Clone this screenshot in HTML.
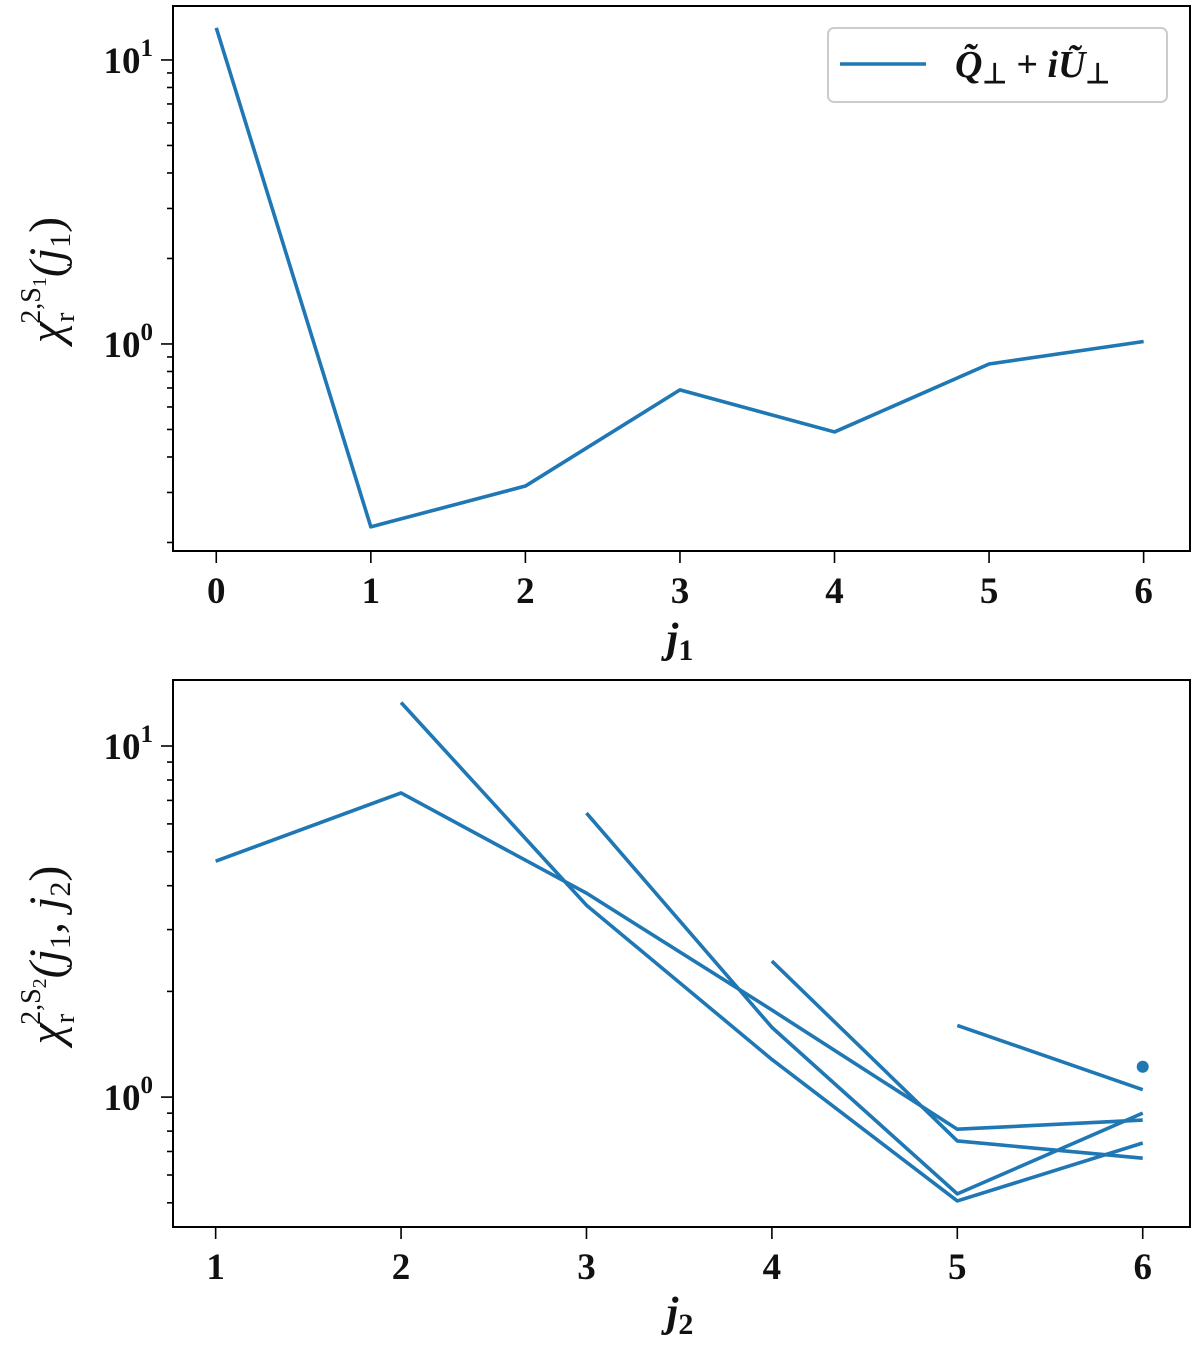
<!DOCTYPE html>
<html><head><meta charset="utf-8"><style>
html,body{margin:0;padding:0;background:#fff}
svg{display:block}
text{font-family:"Liberation Serif",serif;fill:#111}
</style></head><body>
<svg id="c" width="1200" height="1349" viewBox="0 0 1200 1349" xmlns="http://www.w3.org/2000/svg"></svg>
<script>
// Top panel data
const top_j1 = [0,1,2,3,4,5,6];
const top_vals = [12.97,0.227,0.316,0.689,0.49,0.85,1.02];
const top_xticks = ["0","1","2","3","4","5","6"];
// Bottom panel data: one series per j1, starting at j2 = j1+1
const bot_xticks = ["1","2","3","4","5","6"];
const s0_j2=[1,2,3,4,5,6], s0_v=[4.70,7.35,3.81,1.77,0.81,0.86];
const s1_j2=[2,3,4,5,6],   s1_v=[13.3,3.52,1.28,0.506,0.74];
const s2_j2=[3,4,5,6],     s2_v=[6.44,1.58,0.53,0.90];
const s3_j2=[4,5,6],       s3_v=[2.44,0.75,0.67];
const s4_j2=[5,6],         s4_v=[1.60,1.05];
const s5_j2=[6],           s5_v=[1.22];

const NS="http://www.w3.org/2000/svg";
const svg=document.getElementById('c');
function mk(tag,attrs,parent){const e=document.createElementNS(NS,tag);for(const k in attrs)e.setAttribute(k,attrs[k]);(parent||svg).appendChild(e);return e;}
const C="#1f77b4";

function panel(cfg){
  const {L,R,T,B,xmin,xmax,ymin,ymax,name}=cfg;
  const xs=v=>L+(v-xmin)/(xmax-xmin)*(R-L);
  const ys=v=>B-(Math.log10(v)-ymin)/(ymax-ymin)*(B-T);
  const g=mk('g',{});
  
  
  for(let d=Math.floor(ymin);d<=Math.ceil(ymax);d++){
    for(let m=1;m<10;m++){
      const lv=d+Math.log10(m);
      if(lv<ymin||lv>ymax)continue;
      const y=B-(lv-ymin)/(ymax-ymin)*(B-T);
      const len=m===1?12:6;
      const t=mk('line',{x1:L-len,x2:L,y1:y,y2:y,stroke:'#000','stroke-width':1.6},g);
      
      
      if(m===1){
        const tx=mk('text',{x:L-20,y:y+13,'text-anchor':'end','font-size':37,'font-weight':'bold'},g);
        
        
        tx.innerHTML='10<tspan dy="-17" font-size="25">'+d+'</tspan>';
      }
    }
  }
  return {g,xs,ys};
}
function frame(g,L,R,T,B){
  const r=mk('rect',{x:L,y:T,width:R-L,height:B-T,fill:'none',stroke:'#000','stroke-width':2},g);
  
  
}
function xticks(g,labels,vals,xs,B){
  labels.forEach((lb,i)=>{
    const x=xs(vals[i]);
    const t=mk('line',{x1:x,x2:x,y1:B,y2:B+12,stroke:'#000','stroke-width':1.6},g);
    
    
    const tx=mk('text',{x:x,y:B+52,'text-anchor':'middle','font-size':37,'font-weight':'bold'},g);
    
    
    tx.textContent=lb;
  });
}
function line(g,xv,yv,xs,ys,nm){
  if(xv.length===1){
    const c=mk('circle',{cx:xs(xv[0]),cy:ys(yv[0]),r:6,fill:C},g);
    
    
    return;
  }
  const p=mk('polyline',{points:xv.map((x,i)=>xs(x)+','+ys(yv[i])).join(' '),fill:'none',stroke:C,'stroke-width':3.6,'stroke-linejoin':'round'},g);
  
  
}

// TOP
const P1=panel({L:173,R:1190,T:6,B:551,xmin:-0.28,xmax:6.3,ymin:-0.729,ymax:1.19,name:'top-panel'});
line(P1.g,top_j1,top_vals,P1.xs,P1.ys,'s1-line');
frame(P1.g,173,1190,6,551);
xticks(P1.g,top_xticks,top_j1,P1.xs,551);
{const t=mk('text',{x:680,y:652,'text-anchor':'middle','font-size':42,'font-style':'italic','font-weight':'bold'},P1.g);


t.innerHTML='j<tspan dy="8" font-size="30" font-style="normal">1</tspan>';}
{const t=mk('text',{x:0,y:0,'text-anchor':'middle','font-size':48,transform:'translate(62,280) rotate(-90)'},P1.g);


t.innerHTML='<tspan font-style="italic">χ</tspan><tspan dy="12" font-size="28">r</tspan><tspan dy="-34" dx="-11" font-size="28">2,S</tspan><tspan dy="6" font-size="20">1</tspan><tspan dy="16" font-style="italic">(j</tspan><tspan dy="8" font-size="30">1</tspan><tspan dy="-8">)</tspan>';}
// legend
{const lg=mk('g',{},P1.g);


mk('rect',{x:828,y:28,width:339,height:74,rx:6,fill:'#fff',stroke:'#ccc','stroke-width':2},lg);
mk('line',{x1:840,x2:926,y1:64,y2:64,stroke:C,'stroke-width':3.6},lg);
const t=mk('text',{x:955,y:77,'font-size':38,'font-style':'italic','font-weight':'bold'},lg);


t.innerHTML='Q̃<tspan font-size="28" dy="6" font-style="normal">⊥</tspan><tspan dy="-6" font-style="normal"> + </tspan>iŨ<tspan font-size="28" dy="6" font-style="normal">⊥</tspan>';}

// BOTTOM
const P2=panel({L:173,R:1190,T:680,B:1227,xmin:0.77,xmax:6.255,ymin:-0.370,ymax:1.188,name:'bottom-panel'});
line(P2.g,s0_j2,s0_v,P2.xs,P2.ys,'s2-line-j1-0');
line(P2.g,s1_j2,s1_v,P2.xs,P2.ys,'s2-line-j1-1');
line(P2.g,s2_j2,s2_v,P2.xs,P2.ys,'s2-line-j1-2');
line(P2.g,s3_j2,s3_v,P2.xs,P2.ys,'s2-line-j1-3');
line(P2.g,s4_j2,s4_v,P2.xs,P2.ys,'s2-line-j1-4');
line(P2.g,s5_j2,s5_v,P2.xs,P2.ys,'s2-point-j1-5');
frame(P2.g,173,1190,680,1227);
xticks(P2.g,bot_xticks,[1,2,3,4,5,6],P2.xs,1227);
{const t=mk('text',{x:680,y:1326,'text-anchor':'middle','font-size':42,'font-style':'italic','font-weight':'bold'},P2.g);


t.innerHTML='j<tspan dy="8" font-size="30" font-style="normal">2</tspan>';}
{const t=mk('text',{x:0,y:0,'text-anchor':'middle','font-size':48,transform:'translate(62,955) rotate(-90)'},P2.g);


t.innerHTML='<tspan font-style="italic">χ</tspan><tspan dy="12" font-size="28">r</tspan><tspan dy="-34" dx="-11" font-size="28">2,S</tspan><tspan dy="6" font-size="20">2</tspan><tspan dy="16" font-style="italic">(j</tspan><tspan dy="8" font-size="30">1</tspan><tspan dy="-8" font-style="italic">, j</tspan><tspan dy="8" font-size="30">2</tspan><tspan dy="-8">)</tspan>';}
</script>
</body></html>
